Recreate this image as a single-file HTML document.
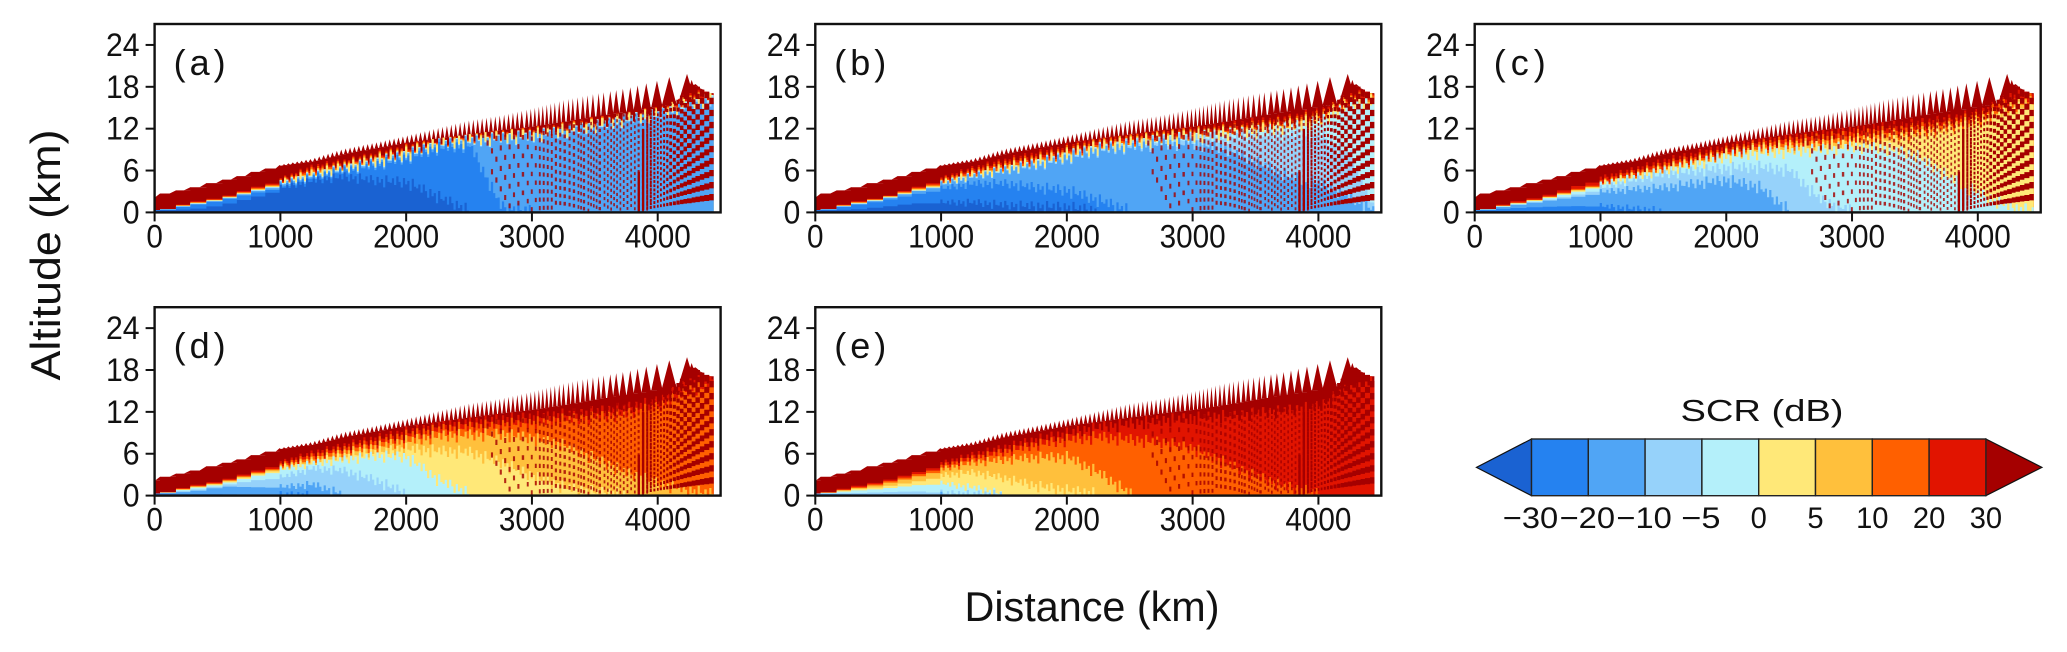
<!DOCTYPE html>
<html lang="en">
<head>
<meta charset="utf-8">
<title>SCR versus distance and altitude</title>
<style>
html,body{margin:0;padding:0;background:#fff;width:2067px;height:652px;overflow:hidden}
svg{display:block}
text{font-family:"Liberation Sans",Arial,sans-serif;fill:#111}
</style>
</head>
<body>
<svg id="figure" xmlns="http://www.w3.org/2000/svg" width="2067" height="652" viewBox="0 0 2067 652">
<rect x="0" y="0" width="2067" height="652" fill="#fff"/>
<text transform="translate(60,255) rotate(-90)" text-anchor="middle" font-size="42" textLength="251" lengthAdjust="spacingAndGlyphs">Altitude (km)</text>
<text x="1092" y="621" text-anchor="middle" font-size="42" textLength="255" lengthAdjust="spacingAndGlyphs">Distance (km)</text>
<text x="1762" y="421" text-anchor="middle" font-size="31" textLength="163" lengthAdjust="spacingAndGlyphs">SCR (dB)</text>
</svg>
<script>
// ---- Axis and legend data ----
const xTickLabels = [0, 1000, 2000, 3000, 4000];
const yTickLabels = [0, 6, 12, 18, 24];
const panelLabels = ["(a)", "(b)", "(c)", "(d)", "(e)"];
const scrLevels = ["\u221230", "\u221220", "\u221210", "\u22125", "0", "5", "10", "20", "30"];
const bandColors = ["#1a62d2", "#2582f0", "#50a5f5", "#96d2fa", "#b4f0fa", "#ffe878", "#ffc03c", "#ff6000", "#e11400", "#a50000"];

// ---- Distance stops (km) shared by the altitude boundaries below ----
const distanceStops = [0, 250, 500, 750, 1000, 1250, 1500, 1750, 2000, 2250, 2500, 2750, 3000, 3250, 3500, 3750, 4000, 4250, 4445];

// ---- Altitude (km) at which SCR crosses each level, panel (a) ----
const panelA_m30 = [.3,.45,1.1,2.2,3.4,4.4,5,4.4,4.1,2,0,0,0,0,0,0,0,0,0];
const panelA_m20 = [.3,1,1.8,2.8,3.6,4.9,5.8,6.6,7.6,9,9.4,.6,0,0,0,0,0,0,0];
const panelA_m10 = [.3,1.1,1.85,3,3.9,5.1,6,6.9,7.9,9.4,9.9,10.3,10.6,11.3,12,13,13.7,15,15.2];
const panelA_m5 = [.3,1.15,1.9,3.1,4,5.2,6.1,7,8,9.5,10,10.4,10.7,11.4,12.1,13.1,13.8,15.2,16];
const panelA_z0 = [.3,1.2,1.95,3.15,4.1,5.3,6.2,7.1,8.1,9.55,10.1,10.5,10.8,11.5,12.2,13.2,13.85,15.4,16.2];
const panelA_p5 = [.3,1.25,2,3.2,4.2,5.5,6.4,7.3,8.3,9.7,10.3,10.6,10.9,11.6,12.3,13.25,13.9,15.6,16.4];
const panelA_p10 = [.3,1.3,2.05,3.3,4.3,5.7,6.6,7.5,8.5,9.85,10.5,10.75,11,11.7,12.4,13.3,14,15.8,16.5];
const panelA_p20 = [.3,1.4,2.1,3.45,4.45,6,6.8,7.7,8.7,10,10.7,10.9,11.2,11.85,12.6,13.35,14.1,16,16.6];
const panelA_p30 = [.3,1.5,2.2,3.6,4.6,6.3,7,7.9,8.9,10.1,10.8,11,11.3,12,12.7,13.4,14.2,16.3,16.8];

// ---- Panel (b) ----
const panelB_m30 = [.3,.4,.8,1.3,1.3,1.3,.9,.7,.5,0,0,0,0,0,0,0,0,0,0];
const panelB_m20 = [.3,1,1.7,2.6,3.3,4,4,3.4,2.9,1.5,0,0,0,0,0,0,0,0,0];
const panelB_m10 = [.3,1.1,1.9,3,3.9,5,5.8,6.6,7.6,8.7,9.2,9.6,9.6,9,7,5,4,2,0];
const panelB_m5 = [.3,1.15,1.95,3.05,4,5.1,5.9,6.8,7.8,8.9,9.5,10,10.4,10.6,10.8,11,11,8,0];
const panelB_z0 = [.3,1.2,2,3.1,4.05,5.2,6,6.9,7.9,9,9.6,10.2,10.6,11,11.4,12,12.8,15,15.4];
const panelB_p5 = [.3,1.25,2.05,3.2,4.15,5.3,6.2,7.1,8.1,9.2,9.8,10.4,10.8,11.2,11.6,12.3,13,15.5,16];
const panelB_p10 = [.3,1.3,2.1,3.3,4.3,5.5,6.4,7.3,8.3,9.4,10,10.6,11,11.4,11.8,12.5,13.3,15.8,16.3];
const panelB_p20 = [.3,1.4,2.15,3.45,4.5,5.8,6.8,7.6,8.6,9.7,10.3,10.8,11.2,11.6,12.1,12.8,13.7,16,16.6];
const panelB_p30 = [.3,1.5,2.2,3.6,4.7,6.1,7.1,8,8.9,10.1,10.7,11.1,11.5,12,12.5,13.1,14,16.3,16.8];

// ---- Panel (c) ----
const panelC_m30 = [.2,.2,.1,0,0,0,0,0,0,0,0,0,0,0,0,0,0,0,0];
const panelC_m20 = [.3,.6,.8,.9,.8,.4,0,0,0,0,0,0,0,0,0,0,0,0,0];
const panelC_m10 = [.3,1,1.6,2.2,2.8,3.2,3.4,4,4.4,3.5,0,0,0,0,0,0,0,0,0];
const panelC_m5 = [.3,1.05,1.7,2.5,3.4,4.5,5.3,5.8,6.1,6.3,5.8,1.5,0,0,0,0,0,0,0];
const panelC_z0 = [.3,1.15,1.9,2.9,3.9,4.9,5.8,6.7,7.8,8.3,8.5,8.8,9.2,9,8,5,2.5,.5,0];
const panelC_p5 = [.3,1.2,2,3.05,4,5.1,6,7,8,8.7,9,9.3,9.7,10.2,10.8,11.5,12.5,14.5,15.3];
const panelC_p10 = [.3,1.25,2.05,3.15,4.1,5.2,6.2,7.2,8.2,9,9.4,9.7,10.2,10.7,11.2,12,13,15,15.8];
const panelC_p20 = [.3,1.3,2.1,3.3,4.3,5.5,6.6,7.5,8.5,9.4,9.9,10.4,10.8,11.3,11.8,12.5,13.5,15.7,16.3];
const panelC_p30 = [.3,1.5,2.3,3.7,4.8,5.9,7.1,8,9,9.9,10.5,11,11.6,12,12.4,13,13.9,16.3,16.8];

// ---- Panel (d) ----
const panelD_m30 = [.2,.1,0,0,0,0,0,0,0,0,0,0,0,0,0,0,0,0,0];
const panelD_m20 = [.2,.2,.2,.1,.1,0,0,0,0,0,0,0,0,0,0,0,0,0,0];
const panelD_m10 = [.3,.6,1.3,1.2,1.1,1.5,0,0,0,0,0,0,0,0,0,0,0,0,0];
const panelD_m5 = [.3,.8,1.5,2.2,2.5,3.8,3.4,2,0,0,0,0,0,0,0,0,0,0,0];
const panelD_z0 = [.3,1.05,1.7,2.8,3.6,4.5,5,5.5,5.3,2,0,0,0,0,0,0,0,0,0];
const panelD_p5 = [.3,1.15,1.85,3,3.9,4.7,5.5,6.1,6.5,6.2,6,4.5,2.5,1,.3,0,0,0,0];
const panelD_p10 = [.3,1.2,1.95,3.15,4.1,5,6,6.8,7.6,8.3,8.5,8.6,8,7,5,3,1.5,.5,0];
const panelD_p20 = [.3,1.3,2.05,3.3,4.3,5.5,6.5,7.4,8.4,9.2,9.6,10,10.2,10.7,11,11.5,12.5,15,15.5];
const panelD_p30 = [.3,1.45,2.2,3.5,4.6,5.9,6.9,7.9,8.8,9.8,10.3,10.7,11,11.4,11.8,12.4,13.3,16,16.5];

// ---- Panel (e) ----
const panelE_m30 = [.1,.05,0,0,0,0,0,0,0,0,0,0,0,0,0,0,0,0,0];
const panelE_m20 = [.15,.15,.1,0,0,0,0,0,0,0,0,0,0,0,0,0,0,0,0];
const panelE_m10 = [.25,.2,.15,.1,0,0,0,0,0,0,0,0,0,0,0,0,0,0,0];
const panelE_m5 = [.3,.35,.5,.6,.3,.1,0,0,0,0,0,0,0,0,0,0,0,0,0];
const panelE_z0 = [.3,.7,1,1.5,1.6,1,0,0,0,0,0,0,0,0,0,0,0,0,0];
const panelE_p5 = [.3,.9,1.3,2,2.8,3.2,2.3,1.2,.5,0,0,0,0,0,0,0,0,0,0];
const panelE_p10 = [.3,1,1.7,2.7,3.7,4.6,5,5.3,5.3,3,0,0,0,0,0,0,0,0,0];
const panelE_p20 = [.3,1.1,1.9,3,4.1,5.2,6.1,7.1,7.8,8.2,7.8,7.4,6.5,4.5,2.5,1,0,0,0];
const panelE_p30 = [.3,1.3,2.1,3.3,4.5,5.7,6.7,7.8,8.7,9.6,10.1,10.6,10.9,11.2,11.6,12,12.6,15.5,16.3];

const panelSeries = [
  [panelA_m30, panelA_m20, panelA_m10, panelA_m5, panelA_z0, panelA_p5, panelA_p10, panelA_p20, panelA_p30],
  [panelB_m30, panelB_m20, panelB_m10, panelB_m5, panelB_z0, panelB_p5, panelB_p10, panelB_p20, panelB_p30],
  [panelC_m30, panelC_m20, panelC_m10, panelC_m5, panelC_z0, panelC_p5, panelC_p10, panelC_p20, panelC_p30],
  [panelD_m30, panelD_m20, panelD_m10, panelD_m5, panelD_z0, panelD_p5, panelD_p10, panelD_p20, panelD_p30],
  [panelE_m30, panelE_m20, panelE_m10, panelE_m5, panelE_z0, panelE_p5, panelE_p10, panelE_p20, panelE_p30]
];

// ---- Radar-beam column edges (km) ----
const rayKm = [0,43,170,284,412,540,654,767,880,994,1029,1064,1099,1134,1169,1204,1239,1274,1309,1344,1379,1414,1449,1484,1519,1554,1589,1624,1659,1694,1729,1764,1799,1834,1869,1904,1939,1974,2009,2044,2079,2114,2149,2184,2219,2254,2289,2324,2359,2394,2429,2464,2499,2534,2569,2604,2639,2674,2709,2744,2779,2814,2849,2884,2919,2959,2991,3023,3055,3086,3118,3150,3182,3217,3251,3291,3325,3363,3405,3442,3485,3530,3570,3623,3670,3723,3782,3840,3909,3994,4092,4233,4270,4300,4335,4370,4410,4445];

// ---- Echo top envelope (km) ----
const envelopeKm = [0,43,170,284,412,540,654,767,880,994,1250,1500,1750,2000,2250,2500,2750,3000,3250,3500,3750,4000,4092,4233,4270,4300,4335,4370,4410,4445];
const spikeTopAlt = [2.2,2.7,3.15,3.6,4.2,4.7,5.2,5.8,6.3,6.8,7.7,9.1,10,11,12.1,13.2,13.9,14.9,16.1,17,17.8,18.9,19.4,19.85,19,18.4,17.8,17.3,17.1,17];
const solidTopAlt = [2.2,2.7,3.15,3.6,4.2,4.7,5.2,5.8,6.3,6.7,7.3,8.4,9.2,10,10.6,11.2,11.8,12.3,13,13.8,14.5,15.3,15.6,17.5,18.3,18,17.6,17.3,17.1,17];

// ---- Interference fringes: row spacing (km) at distance stops, fan stripe altitudes at the far edge (km) ----
const fringeStops = [2700, 3200, 3600, 3950];
const fringeSpacing = [1.5, 1.1, 0.9, 0.8];
const fanStripeKm = [1.8,3.6,5.4,7.2,9,10.8,12.6,14.4,16.2,18,19.8,21.6,23.4,25.2,27,28.8,30.6,32.4,34.2,36,37.8,39.6,41.4,43.2,45,46.8,48.6,50.4,52.2,54,55.8,57.6,59.4,61.2,63,64.8,66.6,68.4,70.2,72];
const toothKm = [0,.7,-.3,1,.2,-.6,.8,-.1,.5,-.8,1.1,.1];

// ---- Layout and axis functions ----
const svgRoot = document.getElementById('figure');
const NS = 'http://www.w3.org/2000/svg';
const panelLeft = [154.6, 815.3, 1474.7, 154.6, 815.3];
const panelBottom = [212.4, 212.4, 212.4, 495.6, 495.6];
const plotW = 566, plotH = 188.4, xMaxKm = 4500, yMaxKm = 27;

function xScale(p, km) { return panelLeft[p] + km / xMaxKm * plotW; }
function yScale(p, alt) { return panelBottom[p] - alt / yMaxKm * plotH; }
function lerp(xs, ys, x) {
  if (x <= xs[0]) return ys[0];
  for (let i = 1; i < xs.length; i++) {
    if (x <= xs[i]) { return ys[i - 1] + (ys[i] - ys[i - 1]) * (x - xs[i - 1]) / (xs[i] - xs[i - 1]); }
  }
  return ys[ys.length - 1];
}
function make(tag, attrs, parent, text) {
  const node = document.createElementNS(NS, tag);
  for (const k in attrs) node.setAttribute(k, attrs[k]);
  if (text !== undefined) node.textContent = text;
  parent.appendChild(node);
  return node;
}
function rectPath(x0, x1, y0, y1) {
  return 'M' + x0.toFixed(2) + ' ' + y0.toFixed(2) + 'H' + x1.toFixed(2) + 'V' + y1.toFixed(2) + 'H' + x0.toFixed(2) + 'Z';
}

// ---- Panels ----
for (let p = 0; p < panelSeries.length; p++) {
  const group = make('g', {}, svgRoot);
  
  

  // dark-red solid band, painted up to the solid echo top
  let d = '';
  for (let i = 0; i < rayKm.length - 1; i++) {
    const top = lerp(envelopeKm, solidTopAlt, rayKm[i]);
    d += rectPath(xScale(p, rayKm[i]), xScale(p, rayKm[i + 1]), yScale(p, top), yScale(p, 0));
  }
  const solid = make('path', { d: d, fill: bandColors[9] }, group);
  
  

  // spikes above the solid top
  d = '';
  for (let i = 1; i < rayKm.length - 1; i++) {
    const km = rayKm[i];
    const base = Math.min(lerp(envelopeKm, solidTopAlt, km), lerp(envelopeKm, solidTopAlt, rayKm[i - 1]));
    const tip = lerp(envelopeKm, spikeTopAlt, km);
    if (tip - base < .02) continue;
    const gap = (rayKm[i + 1] - rayKm[i - 1]) / 2;
    const half = km > 4150 ? gap * .8 : gap * (km > 3600 ? .5 : .42);
    const w0 = xScale(p, km - half), w1 = xScale(p, km + half);
    d += 'M' + w0.toFixed(2) + ' ' + yScale(p, base).toFixed(2) + 'L' + xScale(p, km).toFixed(2) + ' ' + yScale(p, tip).toFixed(2) + 'L' + w1.toFixed(2) + ' ' + yScale(p, base).toFixed(2) + 'Z';
  }
  const spikes = make('path', { d: d, fill: bandColors[9] }, group);
  
  

  // stacked SCR bands, painted top level first
  for (let k = 8; k >= 0; k--) {
    d = '';
    let col = 0;
    for (let i = 0; i < rayKm.length - 1; i++) {
      const gap = rayKm[i + 1] - rayKm[i];
      const sub = rayKm[i] < 990 ? 1 : Math.max(1, Math.round(gap / 18));
      for (let c = 0; c < sub; c++) {
        const km = rayKm[i] + gap * c / sub;
        const raw = lerp(distanceStops, panelSeries[p][k], km);
        col++;
        if (raw <= 0) continue;
        const amp = km < 900 ? 0 : Math.min(1, km / 2000);
        const solidTop = lerp(envelopeKm, solidTopAlt, km);
        const idx = (col + (k >= 5 ? 3 : 0)) % toothKm.length;
        const alt = Math.min(solidTop, Math.max(0, raw + toothKm[idx] * amp));
        d += rectPath(xScale(p, km), xScale(p, km + gap / sub), yScale(p, alt), yScale(p, 0));
      }
    }
    const band = make('path', { d: d, fill: bandColors[k] }, group);
    
    
  }

  // interference fringes
  let archD = '', fanD = '';
  for (let i = 0; i < rayKm.length - 1; i++) {
    if (rayKm[i] < 2600) continue;
    const gap = rayKm[i + 1] - rayKm[i];
    const n = Math.max(1, Math.round(gap / 28));
    for (let c = 0; c < n; c++) {
      const km = rayKm[i] + gap * c / n;
      const colKm = gap / n;
      const solidTop = lerp(envelopeKm, solidTopAlt, km);
      const x0 = xScale(p, km);
      if (km < 3950) {
        const step = lerp(fringeStops, fringeSpacing, km);
        const off = (km - 3150) / 55.5;
        const drop = off * off / 30;
        for (let r = 0; r < 40; r++) {
          const alt = r * step - drop + (km > 3150 ? 0 : .4);
          const h = step * .5;
          if (alt < 0 || alt + h > solidTop) continue;
          if (km < 2755 - alt * 15) continue;
          if (km < 3050 && (r + i) % 2 === 1) continue;
          archD += rectPath(x0, x0 + Math.max(1.7, (xScale(p, km + colKm) - x0) * .48), yScale(p, alt + h), yScale(p, alt));
        }
      }
      if (km > 3830) {
        const f = Math.pow((km - 3820) / 625, .75);
        const frac = Math.min(1, Math.max(.55, (km - 3820) / 350));
        for (let s = 0; s < fanStripeKm.length; s++) {
          const alt = fanStripeKm[s] * f;
          const h = Math.max(.4, .95 * f);
          if (alt > solidTop) continue;
          fanD += rectPath(x0, x0 + (xScale(p, km + colKm) - x0) * frac, yScale(p, Math.min(solidTop, alt + h)), yScale(p, alt));
        }
      }
    }
  }
  const arches = make('path', { d: archD, fill: bandColors[9], 'fill-opacity': .82 }, group);
  
  
  const fan = make('path', { d: fanD, fill: bandColors[9] }, group);
  
  

  // frame
  const frame = make('rect', { x: panelLeft[p], y: panelBottom[p] - plotH, width: plotW, height: plotH, fill: 'none', stroke: '#111', 'stroke-width': 2.4 }, group);
  
  

  // y axis
  yTickLabels.forEach(function (v) {
    const y = yScale(p, v);
    const tick = make('line', { x1: panelLeft[p] - 9, x2: panelLeft[p], y1: y, y2: y, stroke: '#111', 'stroke-width': 2 }, group);
    
    
    const s = String(v);
    const label = make('text', { x: panelLeft[p] - 15, y: y + 11, 'text-anchor': 'end', 'font-size': 32, textLength: 16.8 * s.length, lengthAdjust: 'spacingAndGlyphs' }, group, s);
    
    
  });

  // x axis
  xTickLabels.forEach(function (v) {
    const x = xScale(p, v);
    const tick = make('line', { x1: x, x2: x, y1: panelBottom[p], y2: panelBottom[p] + 9, stroke: '#111', 'stroke-width': 2 }, group);
    
    
    const s = String(v);
    const label = make('text', { x: x, y: panelBottom[p] + 35, 'text-anchor': 'middle', 'font-size': 32, textLength: 16.5 * s.length, lengthAdjust: 'spacingAndGlyphs' }, group, s);
    
    
  });

  const tag = make('text', { x: panelLeft[p] + 19, y: panelBottom[p] - plotH + 51, 'font-size': 36, textLength: 52, lengthAdjust: 'spacing' }, group, panelLabels[p]);
  
  
}

// ---- Colorbar ----
const cbLeft = 1531.5, cbStep = 56.8, cbTop = 439, cbBottom = 495.7, cbTip = 55;
function cbX(i) { return cbLeft + i * cbStep; }
const colorbar = make('g', {}, svgRoot);


const cbMid = (cbTop + cbBottom) / 2;
const leftTip = make('polygon', { points: cbX(0) + ',' + cbTop + ' ' + (cbX(0) - cbTip) + ',' + cbMid + ' ' + cbX(0) + ',' + cbBottom, fill: bandColors[0], stroke: '#111', 'stroke-width': 1.2 }, colorbar);


const lastIdx = scrLevels.length - 1;
const rightTip = make('polygon', { points: cbX(lastIdx) + ',' + cbTop + ' ' + (cbX(lastIdx) + cbTip + 1) + ',' + cbMid + ' ' + cbX(lastIdx) + ',' + cbBottom, fill: bandColors[9], stroke: '#111', 'stroke-width': 1.2 }, colorbar);


for (let i = 0; i < lastIdx; i++) {
  const swatch = make('rect', { x: cbX(i), y: cbTop, width: cbStep, height: cbBottom - cbTop, fill: bandColors[i + 1], stroke: '#222', 'stroke-width': 1.4 }, colorbar);
  
  
}
scrLevels.forEach(function (s, i) {
  const neg = s.charAt(0) === '\u2212';
  const label = make('text', { x: cbX(i) + (neg ? -1 : 0), y: 528, 'text-anchor': 'middle', 'font-size': 30, textLength: (neg ? 23 : 0) + 16.2 * s.replace('\u2212', '').length, lengthAdjust: 'spacingAndGlyphs' }, colorbar, s);
  
  
});
</script>
</body>
</html>
